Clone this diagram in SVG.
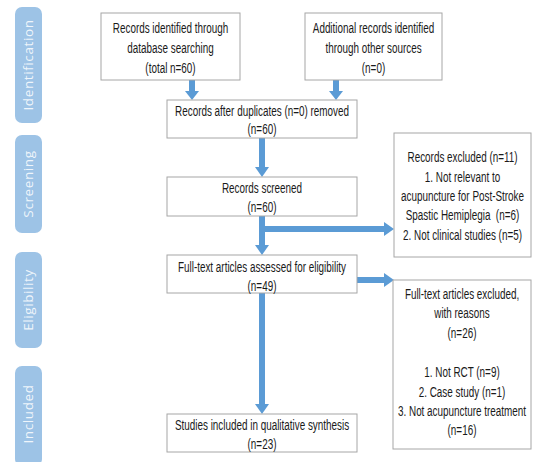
<svg xmlns="http://www.w3.org/2000/svg" width="533" height="462" viewBox="0 0 533 462">
<style>
.bx{fill:#fff;stroke:#a6a6a6;stroke-width:1}
.t{font-family:"Liberation Sans",Arial,sans-serif;font-size:15px;fill:#1a1a1a;text-anchor:middle;white-space:pre}
.pill{fill:#9dc3e6}
.pt{font-family:"Open Sans","DejaVu Sans",sans-serif;font-size:13.5px;fill:#fff;fill-opacity:0.85;text-anchor:middle;letter-spacing:0.6px}
.ar{stroke:#5b9bd5;stroke-width:6;fill:none}
.ah{fill:#5b9bd5}
</style>
<g id="phases">
<g id="ph-identification"><rect class="pill" x="15" y="7" width="27" height="116" rx="7"/><text class="pt" transform="translate(33,65) rotate(-90)">Identification</text></g>
<g id="ph-screening"><rect class="pill" x="15" y="135" width="27" height="98" rx="7"/><text class="pt" transform="translate(33,184) rotate(-90)">Screening</text></g>
<g id="ph-eligibility"><rect class="pill" x="15" y="252" width="27" height="96" rx="7"/><text class="pt" transform="translate(33,300) rotate(-90)">Eligibility</text></g>
<g id="ph-included"><rect class="pill" x="15" y="366" width="27" height="100" rx="7"/><text class="pt" transform="translate(33,414) rotate(-90)">Included</text></g>
</g>
<g id="connectors">
<line class="ar" x1="192" y1="80" x2="192" y2="92"/><polygon class="ah" points="185,91 199,91 192,100"/>
<line class="ar" x1="336" y1="80" x2="336" y2="92"/><polygon class="ah" points="329,91 343,91 336,100"/>
<line class="ar" x1="262" y1="138" x2="262" y2="168"/><polygon class="ah" points="255,167 269,167 262,177"/>
<line class="ar" x1="262" y1="216" x2="262" y2="246"/><polygon class="ah" points="255,245 269,245 262,255"/>
<line class="ar" x1="262" y1="229" x2="385" y2="229"/><polygon class="ah" points="384,222 384,236 394,229"/>
<line class="ar" x1="357" y1="280" x2="385" y2="280"/><polygon class="ah" points="384,273 384,287 394,280"/>
<line class="ar" x1="262" y1="293" x2="262" y2="405"/><polygon class="ah" points="255,404 269,404 262,414"/>
</g>
<g id="n-db"><rect class="bx" x="101" y="13" width="139" height="67"/>
<text class="t" transform="translate(170.5,33) scale(0.66 1)">Records identified through</text>
<text class="t" transform="translate(170.5,53) scale(0.66 1)">database searching</text>
<text class="t" transform="translate(170.5,72.5) scale(0.66 1)">(total n=60)</text></g>
<g id="n-other"><rect class="bx" x="305" y="13" width="137" height="67"/>
<text class="t" transform="translate(373.5,33) scale(0.66 1)">Additional records identified</text>
<text class="t" transform="translate(373.5,53) scale(0.66 1)">through other sources</text>
<text class="t" transform="translate(373.5,72.5) scale(0.66 1)">(n=0)</text></g>
<g id="n-dup"><rect class="bx" x="167" y="100" width="190" height="38"/>
<text class="t" transform="translate(262,116) scale(0.66 1)">Records after duplicates (n=0) removed</text>
<text class="t" transform="translate(262,134) scale(0.66 1)">(n=60)</text></g>
<g id="n-screen"><rect class="bx" x="167" y="177" width="190" height="39"/>
<text class="t" transform="translate(262,193) scale(0.66 1)">Records screened</text>
<text class="t" transform="translate(262,212) scale(0.66 1)">(n=60)</text></g>
<g id="n-full"><rect class="bx" x="167" y="255" width="190" height="38"/>
<text class="t" transform="translate(262,272) scale(0.66 1)">Full-text articles assessed for eligibility</text>
<text class="t" transform="translate(262,291) scale(0.66 1)">(n=49)</text></g>
<g id="n-incl"><rect class="bx" x="167" y="414" width="190" height="38"/>
<text class="t" transform="translate(262,430) scale(0.66 1)">Studies included in qualitative synthesis</text>
<text class="t" transform="translate(262,449) scale(0.66 1)">(n=23)</text></g>
<g id="n-excl1"><rect class="bx" x="394" y="133" width="137" height="124"/>
<text class="t" transform="translate(462.5,162) scale(0.66 1)">Records excluded (n=11)</text>
<text class="t" transform="translate(462.5,182) scale(0.66 1)">1. Not relevant to</text>
<text class="t" transform="translate(462.5,201) scale(0.66 1)">acupuncture for Post-Stroke</text>
<text class="t" transform="translate(462.5,220) scale(0.66 1)">Spastic Hemiplegia  (n=6)</text>
<text class="t" transform="translate(462.5,240) scale(0.66 1)">2. Not clinical studies (n=5)</text></g>
<g id="n-excl2"><rect class="bx" x="393" y="280" width="138" height="169"/>
<text class="t" transform="translate(462,299) scale(0.66 1)">Full-text articles excluded,</text>
<text class="t" transform="translate(462,318) scale(0.66 1)">with reasons</text>
<text class="t" transform="translate(462,338) scale(0.66 1)">(n=26)</text>
<text class="t" transform="translate(462,377) scale(0.66 1)">1. Not RCT (n=9)</text>
<text class="t" transform="translate(462,397) scale(0.66 1)">2. Case study (n=1)</text>
<text class="t" transform="translate(462,416) scale(0.66 1)">3. Not acupuncture treatment</text>
<text class="t" transform="translate(462,435) scale(0.66 1)">(n=16)</text></g>
</svg>
